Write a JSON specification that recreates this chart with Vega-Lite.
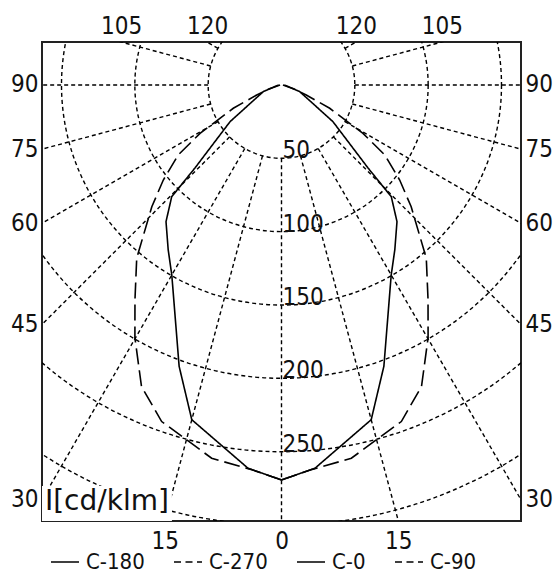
{
  "$schema": "https://vega.github.io/schema/vega-lite/v6.json",
  "width": 479,
  "height": 479,
  "autosize": {"type": "none"},
  "padding": {"left": 42, "top": 42, "right": 34, "bottom": 53},
  "background": "white",
  "config": {
    "view": {"stroke": "#222", "strokeWidth": 2},
    "axis": {"domain": false, "ticks": false, "grid": false, "title": null, "labelFont": "DejaVu Sans Condensed, Liberation Sans", "labelFontSize": 24, "labelColor": "#111", "labelOverlap": false, "labelFlush": false, "labelBound": false}
  },
  "resolve": {"axis": {"x": "independent", "y": "independent"}, "scale": {"strokeDash": "independent"}, "legend": {"strokeDash": "independent"}},
  "layer": [
    {
      "data": {"values": [{"r": 50}, {"r": 100}, {"r": 150}, {"r": 200}, {"r": 250}, {"r": 300}]},
      "mark": {"type": "point", "shape": "circle", "filled": false, "stroke": "black", "strokeWidth": 1.4, "strokeDash": [4, 3], "opacity": 1, "clip": true},
      "encoding": {
        "x": {"datum": 0, "type": "quantitative", "scale": {"domain": [-163.3, 163.3], "nice": false, "zero": false}, "axis": null},
        "y": {"datum": 0, "type": "quantitative", "scale": {"domain": [-297.3, 29.3], "nice": false, "zero": false}, "axis": null},
        "size": {"field": "r", "type": "quantitative", "scale": {"type": "pow", "exponent": 2, "domain": [0, 300], "range": [0, 774365]}, "legend": null}
      }
    },
    {
      "data": {"values": [{"angle": -120}, {"angle": -105}, {"angle": -90}, {"angle": -75}, {"angle": -60}, {"angle": -45}, {"angle": -30}, {"angle": -15}, {"angle": 0}, {"angle": 15}, {"angle": 30}, {"angle": 45}, {"angle": 60}, {"angle": 75}, {"angle": 90}, {"angle": 105}, {"angle": 120}]},
      "transform": [
        {"calculate": "50*sin(datum.angle*PI/180)", "as": "x1"},
        {"calculate": "-50*cos(datum.angle*PI/180)", "as": "y1"},
        {"calculate": "700*sin(datum.angle*PI/180)", "as": "x2"},
        {"calculate": "-700*cos(datum.angle*PI/180)", "as": "y2"}
      ],
      "mark": {"type": "rule", "stroke": "black", "strokeWidth": 1.4, "strokeDash": [4, 3], "clip": true},
      "encoding": {
        "x": {"field": "x1", "type": "quantitative", "scale": {"domain": [-163.3, 163.3], "nice": false, "zero": false},
              "axis": {"orient": "top", "values": [-109.3, -50.7, 50.7, 109.3], "labelExpr": "abs(datum.value) > 80 ? '105' : '120'", "labelPadding": 4}},
        "y": {"field": "y1", "type": "quantitative", "scale": {"domain": [-297.3, 29.3], "nice": false, "zero": false},
              "axis": {"orient": "right", "values": [0, -43.8, -94.3, -163.3, -282.9], "labelExpr": "datum.value > -20 ? '90' : datum.value > -70 ? '75' : datum.value > -130 ? '60' : datum.value > -220 ? '45' : '30'", "labelPadding": 4}},
        "x2": {"field": "x2"},
        "y2": {"field": "y2"}
      }
    },
    {
      "data": {"values": [{"box": "label"}]},
      "mark": {"type": "rect", "fill": "white", "stroke": null},
      "encoding": {
        "x": {"datum": -163.3, "type": "quantitative", "axis": null},
        "x2": {"datum": -74.7},
        "y": {"datum": -273.4, "type": "quantitative", "axis": null},
        "y2": {"datum": -297.3}
      }
    },
    {
      "data": {"values": [{"label": "I[cd/klm]"}]},
      "mark": {"type": "text", "font": "DejaVu Sans", "fontSize": 28, "align": "left", "baseline": "alphabetic", "color": "#111"},
      "encoding": {
        "x": {"datum": -161.3, "type": "quantitative", "axis": null},
        "y": {"datum": -289.8, "type": "quantitative", "axis": null},
        "text": {"field": "label"}
      }
    },
    {
      "data": {"values": [{"r": 50, "label": "50"}, {"r": 100, "label": "100"}, {"r": 150, "label": "150"}, {"r": 200, "label": "200"}, {"r": 250, "label": "250"}]},
      "transform": [{"calculate": "-datum.r", "as": "ny"}],
      "mark": {"type": "text", "font": "DejaVu Sans Condensed, Liberation Sans", "fontSize": 24, "align": "left", "baseline": "alphabetic", "dx": 1, "color": "#111"},
      "encoding": {
        "x": {"datum": 0, "type": "quantitative", "axis": null},
        "y": {"field": "ny", "type": "quantitative", "axis": null},
        "text": {"field": "label"}
      }
    },
    {
      "data": {"values": [
        {"plane": "C-180", "gamma": 0, "I": 269.3}, {"plane": "C-180", "gamma": 5, "I": 262.3}, {"plane": "C-180", "gamma": 15, "I": 236.3}, {"plane": "C-180", "gamma": 20, "I": 204.1}, {"plane": "C-180", "gamma": 30, "I": 149.6}, {"plane": "C-180", "gamma": 34.5, "I": 136.4}, {"plane": "C-180", "gamma": 40.2, "I": 122}, {"plane": "C-180", "gamma": 44.5, "I": 106.8}, {"plane": "C-180", "gamma": 46.2, "I": 81.7}, {"plane": "C-180", "gamma": 54.5, "I": 43.1}, {"plane": "C-180", "gamma": 70, "I": 13.2}, {"plane": "C-180", "gamma": 90, "I": 2},
        {"plane": "C-0", "gamma": 0, "I": 269.3}, {"plane": "C-0", "gamma": 5, "I": 262.3}, {"plane": "C-0", "gamma": 15, "I": 236.3}, {"plane": "C-0", "gamma": 20, "I": 204.1}, {"plane": "C-0", "gamma": 30, "I": 149.6}, {"plane": "C-0", "gamma": 34.5, "I": 136.4}, {"plane": "C-0", "gamma": 40.2, "I": 122}, {"plane": "C-0", "gamma": 44.5, "I": 106.8}, {"plane": "C-0", "gamma": 46.2, "I": 81.7}, {"plane": "C-0", "gamma": 54.5, "I": 43.1}, {"plane": "C-0", "gamma": 70, "I": 13.2}, {"plane": "C-0", "gamma": 90, "I": 2},
        {"plane": "C-270", "gamma": 0, "I": 269.3}, {"plane": "C-270", "gamma": 4.4, "I": 263.2}, {"plane": "C-270", "gamma": 10.6, "I": 258.9}, {"plane": "C-270", "gamma": 19.6, "I": 243.6}, {"plane": "C-270", "gamma": 24.9, "I": 226.7}, {"plane": "C-270", "gamma": 30.1, "I": 199.3}, {"plane": "C-270", "gamma": 34.3, "I": 177.3}, {"plane": "C-270", "gamma": 39.9, "I": 153.9}, {"plane": "C-270", "gamma": 46.8, "I": 121.3}, {"plane": "C-270", "gamma": 51.2, "I": 103.4}, {"plane": "C-270", "gamma": 55.9, "I": 85}, {"plane": "C-270", "gamma": 59.3, "I": 64.6}, {"plane": "C-270", "gamma": 64.2, "I": 36.5}, {"plane": "C-270", "gamma": 68, "I": 18.2}, {"plane": "C-270", "gamma": 72, "I": 9.5}, {"plane": "C-270", "gamma": 90, "I": 1},
        {"plane": "C-90", "gamma": 0, "I": 269.3}, {"plane": "C-90", "gamma": 4.4, "I": 263.2}, {"plane": "C-90", "gamma": 10.6, "I": 258.9}, {"plane": "C-90", "gamma": 19.6, "I": 243.6}, {"plane": "C-90", "gamma": 24.9, "I": 226.7}, {"plane": "C-90", "gamma": 30.1, "I": 199.3}, {"plane": "C-90", "gamma": 34.3, "I": 177.3}, {"plane": "C-90", "gamma": 39.9, "I": 153.9}, {"plane": "C-90", "gamma": 46.8, "I": 121.3}, {"plane": "C-90", "gamma": 51.2, "I": 103.4}, {"plane": "C-90", "gamma": 55.9, "I": 85}, {"plane": "C-90", "gamma": 59.3, "I": 64.6}, {"plane": "C-90", "gamma": 64.2, "I": 36.5}, {"plane": "C-90", "gamma": 68, "I": 18.2}, {"plane": "C-90", "gamma": 72, "I": 9.5}, {"plane": "C-90", "gamma": 90, "I": 1}
      ]},
      "transform": [
        {"calculate": "(datum.plane === 'C-180' || datum.plane === 'C-270') ? -1 : 1", "as": "side"},
        {"calculate": "datum.side * datum.I * sin(datum.gamma*PI/180)", "as": "px"},
        {"calculate": "-datum.I * cos(datum.gamma*PI/180)", "as": "py"}
      ],
      "mark": {"type": "line", "color": "black", "strokeWidth": 1.6, "clip": true},
      "encoding": {
        "x": {"field": "px", "type": "quantitative", "scale": {"domain": [-163.3, 163.3], "nice": false, "zero": false},
              "axis": {"orient": "bottom", "values": [-79.6, 0, 79.6], "labelExpr": "abs(datum.value) < 1 ? '0' : '15'", "labelPadding": 8}},
        "y": {"field": "py", "type": "quantitative", "scale": {"domain": [-297.3, 29.3], "nice": false, "zero": false},
              "axis": {"orient": "left", "values": [0, -43.8, -94.3, -163.3, -282.9], "labelExpr": "datum.value > -20 ? '90' : datum.value > -70 ? '75' : datum.value > -130 ? '60' : datum.value > -220 ? '45' : '30'", "labelPadding": 4}},
        "order": {"field": "gamma", "type": "quantitative"},
        "strokeDash": {"field": "plane", "type": "nominal",
          "scale": {"domain": ["C-180", "C-270", "C-0", "C-90"], "range": [[1, 0], [16, 6], [1, 0], [16, 6]]},
          "legend": null}
      }
    },
    {
      "data": {"values": [{"plane": "C-180", "px": 0, "py": 0}, {"plane": "C-270", "px": 0, "py": 0}, {"plane": "C-0", "px": 0, "py": 0}, {"plane": "C-90", "px": 0, "py": 0}]},
      "transform": [{"filter": "false"}],
      "mark": {"type": "line", "color": "black", "strokeWidth": 1.6, "clip": true},
      "encoding": {
        "x": {"field": "px", "type": "quantitative", "axis": null},
        "y": {"field": "py", "type": "quantitative", "axis": null},
        "strokeDash": {"field": "plane", "type": "nominal",
          "scale": {"domain": ["C-180", "C-270", "C-0", "C-90"], "range": [[1, 0], [7, 4.5], [1, 0], [7, 4.5]]},
          "legend": {"orient": "none", "legendX": 8, "legendY": 505, "direction": "horizontal", "title": null, "padding": 0,
            "symbolType": "stroke", "symbolSize": 784, "symbolStrokeWidth": 1.6, "symbolStrokeColor": "black",
            "labelFont": "DejaVu Sans Condensed, Liberation Sans", "labelFontSize": 22, "labelColor": "#111", "labelOffset": 6, "columnPadding": 25}}
      }
    }
  ]
}
